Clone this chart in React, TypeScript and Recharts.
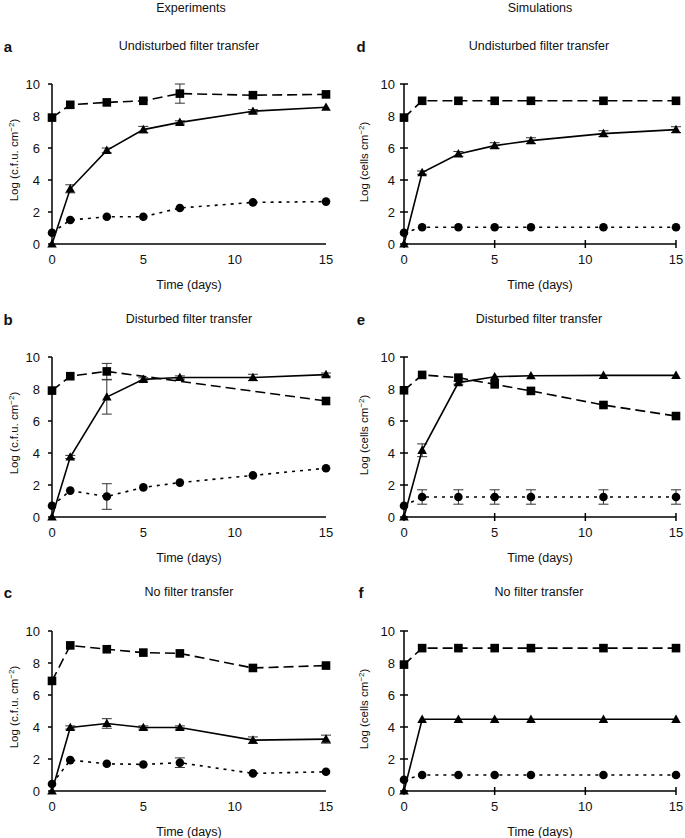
import React from 'react';
import { LineChart, Line, XAxis, YAxis, ErrorBar } from 'recharts';

const days = [0, 1, 3, 5, 7, 11, 15];
const xTicks = [0, 5, 10, 15];
const yTicks = [0, 2, 4, 6, 8, 10];

// Experiments - undisturbed filter transfer
const aSquare = [7.9, 8.7, 8.85, 8.95, 9.4, 9.3, 9.35];
const aSquareErr = [0, 0, 0, 0, 0.6, 0, 0];
const aTriangle = [0, 3.45, 5.85, 7.15, 7.6, 8.3, 8.55];
const aTriangleErr = [0, 0.25, 0.15, 0.2, 0.1, 0.1, 0];
const aCircle = [0.7, 1.5, 1.7, 1.7, 2.25, 2.6, 2.65];
const aCircleErr = [0, 0, 0, 0, 0, 0, 0];

// Experiments - disturbed filter transfer
const bSquare = [7.9, 8.8, 9.1, null, null, null, 7.25];
const bSquareErr = [0, 0, 0.5, 0, 0, 0, 0];
const bTriangle = [0, 3.75, 7.5, 8.6, 8.72, 8.72, 8.9];
const bTriangleErr = [0, 0.1, 1.07, 0.1, 0.1, 0.2, 0.1];
const bCircle = [0.7, 1.65, 1.28, 1.85, 2.15, 2.6, 3.05];
const bCircleErr = [0, 0, 0.8, 0, 0, 0, 0];

// Experiments - no filter transfer
const cSquare = [6.88, 9.1, 8.86, 8.65, 8.6, 7.69, 7.84];
const cSquareErr = [0, 0, 0, 0, 0, 0, 0];
const cTriangle = [0, 3.97, 4.22, 3.97, 3.97, 3.18, 3.24];
const cTriangleErr = [0, 0.1, 0.3, 0.1, 0.1, 0.2, 0.25];
const cCircle = [0.44, 1.93, 1.7, 1.66, 1.77, 1.1, 1.2];
const cCircleErr = [0, 0, 0, 0, 0.3, 0, 0];

// Simulations - undisturbed filter transfer
const dSquare = [7.9, 8.95, 8.95, 8.95, 8.95, 8.95, 8.95];
const dSquareErr = [0, 0, 0, 0, 0, 0, 0];
const dTriangle = [0, 4.46, 5.63, 6.15, 6.46, 6.9, 7.15];
const dTriangleErr = [0, 0.1, 0.15, 0.18, 0.18, 0.18, 0.18];
const dCircle = [0.7, 1.05, 1.05, 1.05, 1.05, 1.05, 1.05];
const dCircleErr = [0, 0, 0, 0, 0, 0, 0];

// Simulations - disturbed filter transfer
const eSquare = [7.92, 8.88, 8.71, 8.29, 7.88, 7.0, 6.31];
const eSquareErr = [0, 0, 0, 0, 0, 0, 0];
const eTriangle = [0, 4.17, 8.4, 8.77, 8.83, 8.85, 8.85];
const eTriangleErr = [0, 0.4, 0.1, 0, 0, 0, 0];
const eCircle = [0.7, 1.25, 1.25, 1.25, 1.25, 1.25, 1.25];
const eCircleErr = [0, 0.45, 0.45, 0.45, 0.45, 0.45, 0.45];

// Simulations - no filter transfer
const fSquare = [7.9, 8.93, 8.93, 8.93, 8.93, 8.93, 8.93];
const fSquareErr = [0, 0, 0, 0, 0, 0, 0];
const fTriangle = [0, 4.48, 4.48, 4.48, 4.48, 4.48, 4.48];
const fTriangleErr = [0, 0, 0, 0, 0, 0, 0];
const fCircle = [0.7, 1.0, 1.0, 1.0, 1.0, 1.0, 1.0];
const fCircleErr = [0, 0, 0, 0, 0, 0, 0];

const buildRows = (sq: any[], sqE: number[], tr: number[], trE: number[], ci: number[], ciE: number[]) =>
  days.map((day, i) => ({
    day,
    square: sq[i],
    squareErr: sqE[i],
    triangle: tr[i],
    triangleErr: trE[i],
    circle: ci[i],
    circleErr: ciE[i],
  }));

const ok = (p: any) => Number.isFinite(p.cx) && Number.isFinite(p.cy);

const squareDot = (p: any) =>
  ok(p) ? <rect key={`s-${p.index}`} x={p.cx - 4.3} y={p.cy - 4.3} width={8.6} height={8.6} fill="#000" /> : <g key={`s-${p.index}`} />;

const triangleDot = (p: any) =>
  ok(p) ? (
    <path key={`t-${p.index}`} d={`M${p.cx},${p.cy - 4.8} L${p.cx + 4.8},${p.cy + 3.6} L${p.cx - 4.8},${p.cy + 3.6} Z`} fill="#000" />
  ) : (
    <g key={`t-${p.index}`} />
  );

const circleDot = (p: any) =>
  ok(p) ? <circle key={`c-${p.index}`} cx={p.cx} cy={p.cy} r={4.3} fill="#000" /> : <g key={`c-${p.index}`} />;

const YTick = ({ x, y, payload, cross, off }: any) => (
  <g>
    {cross && <line x1={x + off - 4} x2={x + off + 4} y1={y} y2={y} stroke="#000" strokeWidth={1.5} />}
    <text x={x} y={y} dy="0.35em" textAnchor="end" fontSize={13} fill="#111">
      {payload.value}
    </text>
  </g>
);

const XTick = ({ x, y, payload, cross }: any) => (
  <g>
    {cross && <line x1={x} x2={x} y1={y - 14} y2={y - 6} stroke="#000" strokeWidth={1.5} />}
    <text x={x} y={y} dy="0.75em" textAnchor="middle" fontSize={13} fill="#111">
      {payload.value}
    </text>
  </g>
);

interface PanelProps {
  rows: any[];
  left: number;
  top: number;
  sim: boolean;
}

const Panel: React.FC<PanelProps> = ({ rows, left, top, sim }) => {
  const axisW = sim ? 64 : 52;
  const yMargin = sim ? 5 : 8;
  return (
    <div style={{ position: 'absolute', left, top }}>
      <LineChart width={345} height={228} data={rows} margin={{ top: 20, right: sim ? 9 : 19, left: 0, bottom: 0 }}>
        <XAxis
          dataKey="day"
          type="number"
          domain={[0, 15]}
          ticks={xTicks}
          height={48}
          tickSize={4}
          tickMargin={6}
          tickLine={false}
          axisLine={{ stroke: '#000', strokeWidth: 1.5 }}
          tick={<XTick cross={sim} />}
          label={{ value: 'Time (days)', position: 'insideBottom', offset: 3, fontSize: 12.5, fill: '#111' }}
        />
        <YAxis
          type="number"
          domain={[0, 10]}
          ticks={yTicks}
          width={axisW}
          tickSize={4}
          tickMargin={yMargin}
          tickLine={sim ? false : { stroke: '#000', strokeWidth: 1.5 }}
          axisLine={{ stroke: '#000', strokeWidth: 1.5 }}
          tick={<YTick cross={sim} off={4 + yMargin} />}
        />
        <Line
          dataKey="square"
          stroke="#000"
          strokeWidth={1.6}
          strokeDasharray="10 5"
          connectNulls
          dot={squareDot}
          activeDot={false}
          isAnimationActive={false}
        >
          <ErrorBar dataKey="squareErr" width={5} stroke="#333" strokeWidth={1} />
        </Line>
        <Line
          dataKey="triangle"
          stroke="#000"
          strokeWidth={1.6}
          dot={triangleDot}
          activeDot={false}
          isAnimationActive={false}
        >
          <ErrorBar dataKey="triangleErr" width={5} stroke="#333" strokeWidth={1} />
        </Line>
        <Line
          dataKey="circle"
          stroke="#000"
          strokeWidth={1.6}
          strokeDasharray="3 5"
          dot={circleDot}
          activeDot={false}
          isAnimationActive={false}
        >
          <ErrorBar dataKey="circleErr" width={5} stroke="#333" strokeWidth={1} />
        </Line>
      </LineChart>
    </div>
  );
};

const centered = (x: number, y: number, extra: React.CSSProperties = {}): React.CSSProperties => ({
  position: 'absolute',
  left: x,
  top: y,
  transform: 'translate(-50%, -50%)',
  whiteSpace: 'nowrap',
  fontSize: 12.5,
  color: '#111',
  ...extra,
});

const YLabel = ({ x, y, unit }: { x: number; y: number; unit: string }) => (
  <div style={centered(x, y, { transform: 'translate(-50%, -50%) rotate(-90deg)', fontSize: 11.5, lineHeight: '12px' })}>
    Log ({unit} cm<sup style={{ fontSize: 8, verticalAlign: 4 }}>−2</sup>)
  </div>
);

const plotTops = [84, 357, 631];

export default function App() {
  const expRows = [
    buildRows(aSquare, aSquareErr, aTriangle, aTriangleErr, aCircle, aCircleErr),
    buildRows(bSquare, bSquareErr, bTriangle, bTriangleErr, bCircle, bCircleErr),
    buildRows(cSquare, cSquareErr, cTriangle, cTriangleErr, cCircle, cCircleErr),
  ];
  const simRows = [
    buildRows(dSquare, dSquareErr, dTriangle, dTriangleErr, dCircle, dCircleErr),
    buildRows(eSquare, eSquareErr, eTriangle, eTriangleErr, eCircle, eCircleErr),
    buildRows(fSquare, fSquareErr, fTriangle, fTriangleErr, fCircle, fCircleErr),
  ];
  const expTitles = ['Undisturbed filter transfer', 'Disturbed filter transfer', 'No filter transfer'];
  const expLetters = ['a', 'b', 'c'];
  const simLetters = ['d', 'e', 'f'];
  const headerY = [46, 319, 592];

  return (
    <div
      style={{
        position: 'absolute',
        left: 0,
        top: 0,
        width: 685,
        height: 838,
        background: '#fff',
        fontFamily: '"Liberation Sans", Arial, sans-serif',
      }}
    >
      <div style={centered(191, 8)}>Experiments</div>
      <div style={centered(540, 8)}>Simulations</div>
      {plotTops.map((t, i) => (
        <React.Fragment key={i}>
          <div style={centered(8, headerY[i], { fontWeight: 'bold', fontSize: 15 })}>{expLetters[i]}</div>
          <div style={centered(189, headerY[i])}>{expTitles[i]}</div>
          <div style={centered(361, headerY[i], { fontWeight: 'bold', fontSize: 15 })}>{simLetters[i]}</div>
          <div style={centered(539, headerY[i])}>{expTitles[i]}</div>
          <Panel rows={expRows[i]} left={0} top={t - 20} sim={false} />
          <Panel rows={simRows[i]} left={340} top={t - 20} sim={true} />
          <YLabel x={13} y={t + 76} unit="c.f.u." />
          <YLabel x={363} y={t + 78} unit="cells" />
        </React.Fragment>
      ))}
    </div>
  );
}
